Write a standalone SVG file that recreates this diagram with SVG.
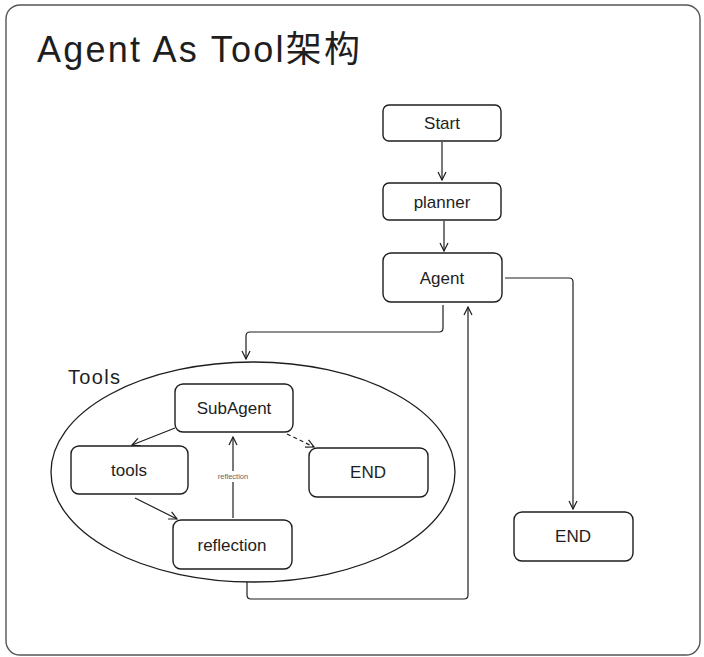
<svg xmlns="http://www.w3.org/2000/svg" width="704" height="657" viewBox="0 0 704 657">
<defs>
<style>
.box{fill:#fff;stroke:#1e1e1e;stroke-width:1.4}
.lbl{font-family:"Liberation Sans","Noto Sans CJK SC",sans-serif;font-size:17px;fill:#1e1e1e;text-anchor:middle;dominant-baseline:central}
.edge{fill:none;stroke:#1e1e1e;stroke-width:1.2}
</style>
<marker id="ah" viewBox="0 0 10 10" refX="9" refY="5" markerWidth="10" markerHeight="10" markerUnits="userSpaceOnUse" orient="auto">
<path d="M1,1 L9,5 L1,9" fill="none" stroke="#1e1e1e" stroke-width="1.2"/>
</marker>
</defs>
<rect width="704" height="657" fill="#fff"/>
<rect id="frame" x="6" y="5" width="694" height="650" rx="14" fill="#fff" stroke="#555" stroke-width="1.4"/>
<text id="title" x="37" y="62" font-family="'Liberation Sans','Noto Sans CJK SC',sans-serif" font-size="36" fill="#1e1e1e" textLength="323" lengthAdjust="spacing">Agent As Tool架构</text>

<g id="tools-group">
<ellipse cx="253" cy="472" rx="202" ry="110" fill="none" stroke="#1e1e1e" stroke-width="1.3"/>
<text x="68" y="384" font-family="'Liberation Sans',sans-serif" font-size="20" fill="#1e1e1e" textLength="52" lengthAdjust="spacing">Tools</text>
</g>

<g id="connectors">
<path class="edge" d="M442,142 V180" marker-end="url(#ah)"/>
<path class="edge" d="M444,221 V251" marker-end="url(#ah)"/>
<path class="edge" d="M505,278 H569 Q573,278 573,282 V509" marker-end="url(#ah)"/>
<path class="edge" d="M443,305 V328 Q443,332 439,332 H250 Q246,332 246,336 V359" marker-end="url(#ah)"/>
<path class="edge" d="M247,582 V595 Q247,599 251,599 H464 Q468,599 468,595 V307" marker-end="url(#ah)"/>
<path class="edge" d="M175,428 L132,445" marker-end="url(#ah)"/>
<path class="edge" d="M135,498 L177,519" marker-end="url(#ah)"/>
<path class="edge" d="M233,518 V437" marker-end="url(#ah)"/>
<path class="edge" d="M287,434 L314,447" stroke-dasharray="4 3" marker-end="url(#ah)"/>
<rect x="212" y="471" width="42" height="11" fill="#fff"/>
<text x="233" y="476.5" font-family="'Liberation Sans',sans-serif" font-size="7.5" fill="#666" text-anchor="middle" dominant-baseline="central">reflection</text>
</g>

<g id="start"><rect class="box" x="383" y="105" width="118" height="36" rx="6"/><text class="lbl" x="442" y="123">Start</text></g>
<g id="planner"><rect class="box" x="383" y="183" width="118" height="37" rx="6"/><text class="lbl" x="442" y="202">planner</text></g>
<g id="agent"><rect class="box" x="383" y="253" width="119" height="49" rx="8"/><text class="lbl" x="442" y="278">Agent</text></g>
<g id="end-main"><rect class="box" x="514" y="512" width="119" height="49" rx="8"/><text class="lbl" x="573" y="536">END</text></g>
<g id="subagent"><rect class="box" x="175" y="384" width="118" height="48" rx="8"/><text class="lbl" x="234" y="408">SubAgent</text></g>
<g id="tools"><rect class="box" x="71" y="446" width="117" height="48" rx="8"/><text class="lbl" x="129" y="470">tools</text></g>
<g id="end-sub"><rect class="box" x="309" y="448" width="119" height="49" rx="8"/><text class="lbl" x="368" y="472">END</text></g>
<g id="reflection"><rect class="box" x="173" y="520" width="119" height="49" rx="8"/><text class="lbl" x="232" y="545">reflection</text></g>
</svg>
